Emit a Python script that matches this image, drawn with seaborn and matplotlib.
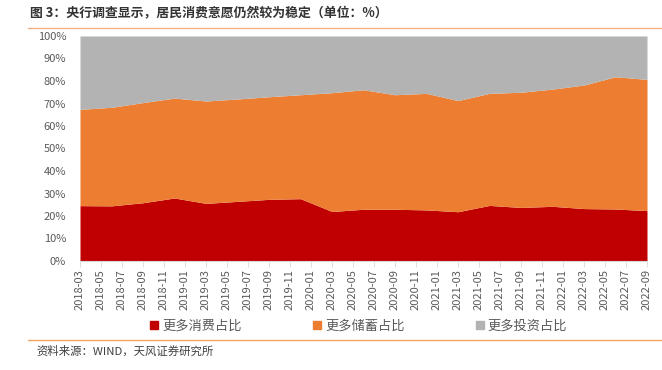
import pandas as pd
import seaborn as sns
import matplotlib.pyplot as plt
from matplotlib.lines import Line2D

# quarterly survey, 2018-03 .. 2022-09
quarters = ["2018-03", "2018-06", "2018-09", "2018-12", "2019-03", "2019-06", "2019-09",
            "2019-12", "2020-03", "2020-06", "2020-09", "2020-12", "2021-03", "2021-06",
            "2021-09", "2021-12", "2022-03", "2022-06", "2022-09"]
consume = [24.6, 24.5, 25.9, 28.0, 25.6, 26.5, 27.4, 27.7, 22.0, 23.0, 23.0, 22.7, 21.9,
           24.7, 23.8, 24.3, 23.3, 23.1, 22.4]
save = [42.8, 43.8, 44.5, 44.4, 45.5, 45.5, 45.6, 46.2, 52.8, 53.1, 50.9, 51.8, 49.4,
        49.8, 51.2, 52.1, 54.9, 58.8, 58.3]
invest = [32.6, 31.7, 29.6, 27.6, 28.9, 28.0, 27.0, 26.1, 25.2, 23.9, 26.1, 25.5, 28.7,
          25.5, 25.0, 23.6, 21.8, 18.1, 19.3]

tick_labels = ["2018-03", "2018-05", "2018-07", "2018-09", "2018-11", "2019-01", "2019-03",
               "2019-05", "2019-07", "2019-09", "2019-11", "2020-01", "2020-03", "2020-05",
               "2020-07", "2020-09", "2020-11", "2021-01", "2021-03", "2021-05", "2021-07",
               "2021-09", "2021-11", "2022-01", "2022-03", "2022-05", "2022-07", "2022-09"]

names = ["更多消费占比", "更多储蓄占比", "更多投资占比"]
colors = ["#C00000", "#ED7D31", "#B3B3B3"]

df = pd.DataFrame({"date": pd.to_datetime(quarters), names[0]: consume,
                   names[1]: save, names[2]: invest})
start = df["date"].iloc[0]
df["m"] = (df["date"].dt.year - start.year) * 12 + (df["date"].dt.month - start.month)

sns.set_theme(style="white")
plt.rcParams["font.family"] = ["Noto Sans CJK SC", "DejaVu Sans"]

fig = plt.figure(figsize=(6.62, 3.7), dpi=100)
ax = fig.add_axes([80 / 662, 1 - 261 / 370, 567 / 662, 225 / 370])

ax.stackplot(df["m"], df[names[0]], df[names[1]], df[names[2]],
             colors=colors, linewidth=0)

tick_m = [(int(t[:4]) - start.year) * 12 + int(t[5:]) - start.month for t in tick_labels]
ax.set_xticks(tick_m)
ax.set_xticklabels(tick_labels, rotation=90, fontsize=8, color="#595959")
ax.set_xlim(0, 54)
ax.set_ylim(0, 100)
ax.set_yticks(range(0, 101, 10))
ax.set_yticklabels([f"{v}%" for v in range(0, 101, 10)], fontsize=8, color="#595959")
ax.tick_params(axis="x", length=4, width=0.6, color="#D9D9D9", pad=2, bottom=True)
ax.tick_params(axis="y", length=0, pad=10)

sns.despine(ax=ax, left=True, top=True, right=True)
ax.spines["bottom"].set_color("#D9D9D9")
ax.spines["bottom"].set_linewidth(0.8)

handles = [Line2D([], [], marker="s", linestyle="", markersize=6, color=c) for c in colors]
fig.legend(handles, names, loc="center", bbox_to_anchor=(0.541, 1 - 326 / 370), ncol=3,
           frameon=False, fontsize=9.5, handlelength=0.8, handletextpad=0.2,
           columnspacing=5.3, labelcolor="#595959")

fig.text(30 / 662, 1 - 13 / 370, "图 3：央行调查显示，居民消费意愿仍然较为稳定（单位：%）",
         fontsize=9.3, fontweight="bold", color="#333333", va="center")
fig.add_artist(Line2D([28 / 662, 1.0], [1 - 28 / 370] * 2, color="#F4B183", lw=1))
fig.add_artist(Line2D([28 / 662, 1.0], [1 - 340 / 370] * 2, color="#F4A460", lw=1))
fig.text(36 / 662, 1 - 351 / 370, "资料来源：WIND，天风证券研究所",
         fontsize=8.2, color="#404040", va="center")

fig.savefig("out.png", dpi=100)
